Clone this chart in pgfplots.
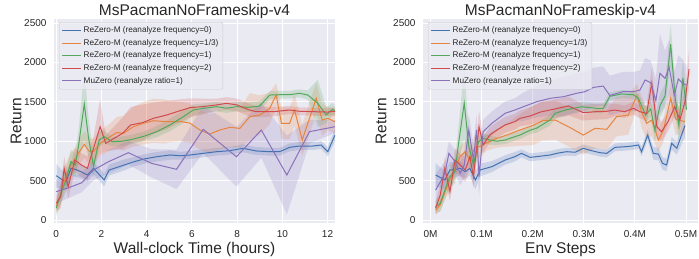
\documentclass[border=0pt]{standalone}
\usepackage{fontspec}
\setmainfont{Liberation Sans}
\usepackage{pgfplots}
\usepackage{pgfplotstable}
\pgfplotsset{compat=1.18}
\usepgfplotslibrary{fillbetween}
\definecolor{bg}{HTML}{EAEAF2}
\definecolor{cA}{HTML}{4471B2}
\definecolor{cB}{HTML}{E8843F}
\definecolor{cC}{HTML}{52A85C}
\definecolor{cD}{HTML}{D14B4B}
\definecolor{cE}{HTML}{8A72BB}
\definecolor{txt}{HTML}{262626}

% ---------- left: wall-clock hours ----------
\pgfplotstableread{
x y e
0 562 150
0.22 520 120
0.43 486 110
0.65 656 100
0.87 640 90
1.09 613 80
1.38 571 80
1.65 656 80
2.12 508 80
2.34 635 70
3.0 698 70
3.44 740 60
3.88 774 60
4.44 803 60
5.03 825 60
5.5 815 50
5.91 825 50
6.5 846 50
7.09 867 50
7.68 880 50
8.26 910 50
8.85 876 50
9.44 867 50
9.88 867 50
10.32 922 50
10.76 939 50
11.35 939 50
11.72 952 50
12.01 867 60
12.33 1078 80
}\LA
\pgfplotstableread{
x y e
0 170 90
0.2 330 130
0.43 560 150
0.65 700 150
0.8 760 150
1.01 860 160
1.24 960 170
1.46 870 170
1.65 870 160
1.94 973 160
2.38 1057 170
2.68 1110 200
2.97 1100 220
3.41 1184 250
3.85 1227 270
4.29 1260 280
4.8 1250 280
5.03 1248 260
5.5 1250 250
5.91 1230 250
6.35 1142 250
6.79 1091 250
7.23 1142 250
7.68 1176 250
8.12 1163 250
8.56 1311 300
9.0 1332 250
9.44 1417 200
9.73 1586 150
9.96 1227 200
10.32 1227 200
10.54 1396 200
10.88 1015 200
11.5 1544 200
11.76 1269 200
12.01 1290 150
12.33 1248 150
}\LB
\pgfplotstableread{
x y e
0 150 100
0.2 330 120
0.43 508 150
0.65 740 150
0.85 700 150
1.0 973 200
1.24 1472 450
1.43 1037 250
1.65 685 150
1.9 1015 100
2.12 1057 80
2.48 994 60
2.9 1000 60
3.3 1020 60
3.85 1060 60
4.44 1121 70
5.03 1206 80
5.62 1311 80
6.06 1396 70
6.5 1417 60
7.09 1438 60
7.53 1420 60
7.97 1438 60
8.5 1430 60
9.0 1447 60
9.44 1586 50
9.88 1590 50
10.32 1590 50
10.76 1608 50
11.13 1586 60
11.57 1481 300
11.94 1332 100
12.23 1408 80
12.33 1380 60
}\LC
\pgfplotstableread{
x y e
0 212 100
0.2 300 150
0.35 656 150
0.53 420 150
0.82 761 150
1.1 700 150
1.38 656 150
1.65 910 150
1.94 1184 350
2.19 973 100
2.56 1037 150
2.93 1100 200
3.29 1206 230
3.81 1235 230
4.29 1290 200
4.88 1332 180
5.4 1380 150
5.91 1425 120
6.5 1440 100
7.09 1460 80
7.53 1481 80
8.0 1460 80
8.5 1400 80
8.85 1374 70
9.59 1374 60
10.32 1396 50
10.76 1380 50
11.5 1374 50
12.0 1370 50
12.33 1380 50
}\LD
\pgfplotstableread{
x y e
0 360 150
0.55 410 130
1.13 473 120
1.65 635 130
2.31 740 150
3.19 854 150
4.22 719 180
5.32 643 250
6.5 1151 300
7.97 803 380
9.07 1142 350
10.2 571 500
11.2 1121 150
12.33 1184 80
}\LE

% ---------- right: env steps (M) ----------
\pgfplotstableread{
x y e
0.010 571 150
0.019 540 130
0.028 508 120
0.038 635 100
0.048 640 100
0.058 656 90
0.068 613 90
0.077 656 90
0.088 508 120
0.097 635 80
0.12 677 70
0.146 761 60
0.165 803 60
0.178 846 50
0.195 795 50
0.215 810 50
0.234 825 50
0.25 850 50
0.266 867 50
0.283 860 50
0.299 910 50
0.315 880 50
0.332 854 50
0.345 846 50
0.361 922 50
0.38 930 50
0.39 935 50
0.407 952 50
0.413 867 60
0.425 1078 70
0.436 846 80
0.446 837 80
0.454 719 80
0.462 698 80
0.472 973 80
0.482 910 80
0.498 1200 150
}\RA
\pgfplotstableread{
x y e
0.010 127 60
0.019 190 80
0.028 350 100
0.038 508 120
0.048 650 130
0.058 803 130
0.068 867 130
0.077 761 150
0.087 931 150
0.097 931 130
0.11 980 100
0.13 1037 120
0.15 1080 150
0.175 1142 200
0.2 1200 250
0.22 1260 250
0.244 1269 250
0.27 1184 250
0.299 1078 250
0.322 1163 250
0.345 1151 250
0.364 1311 250
0.387 1332 250
0.404 1580 150
0.413 1370 200
0.423 1227 200
0.433 1269 200
0.446 1015 150
0.456 1142 150
0.47 1544 200
0.48 1280 200
0.498 1248 150
}\RB
\pgfplotstableread{
x y e
0.010 170 80
0.019 210 100
0.028 380 120
0.038 550 130
0.048 613 150
0.054 931 200
0.066 1481 450
0.075 931 200
0.084 698 150
0.094 994 100
0.103 1037 60
0.116 1015 60
0.13 1000 50
0.146 1015 50
0.165 1057 50
0.175 1078 50
0.195 1140 50
0.208 1167 60
0.234 1269 70
0.244 1354 70
0.266 1400 60
0.296 1438 60
0.325 1417 60
0.338 1417 60
0.351 1570 50
0.374 1600 50
0.397 1590 50
0.407 1544 60
0.413 1450 80
0.421 1332 100
0.431 1410 100
0.439 1142 150
0.449 1450 150
0.459 1575 150
0.47 2230 250
0.479 1545 200
0.486 1200 200
0.494 1800 250
0.501 1400 200
}\RC
\pgfplotstableread{
x y e
0.010 150 80
0.019 317 120
0.028 656 150
0.038 360 120
0.048 761 150
0.058 698 150
0.068 635 150
0.077 803 150
0.084 550 150
0.095 1184 200
0.103 952 100
0.116 1078 100
0.13 1142 100
0.146 1206 100
0.165 1248 100
0.175 1290 100
0.195 1320 110
0.215 1370 120
0.234 1396 120
0.27 1447 120
0.299 1362 100
0.322 1374 100
0.345 1380 100
0.361 1396 80
0.38 1374 80
0.397 1417 80
0.41 1374 80
0.423 1354 100
0.433 1735 200
0.443 1184 150
0.452 1121 120
0.465 1248 120
0.478 1438 120
0.488 1270 120
0.498 1500 150
0.506 1915 250
}\RD
\pgfplotstableread{
x y e
0.010 380 200
0.019 480 180
0.028 592 150
0.036 846 150
0.048 740 150
0.058 592 150
0.066 700 180
0.075 1142 200
0.084 761 200
0.09 1142 200
0.095 550 250
0.103 1121 150
0.12 1227 150
0.133 1290 150
0.146 1354 150
0.165 1396 150
0.182 1438 180
0.208 1502 200
0.234 1544 220
0.26 1565 250
0.286 1608 250
0.302 1628 250
0.319 1683 250
0.338 1700 250
0.351 1580 250
0.377 1630 250
0.397 1628 250
0.41 1650 250
0.42 1777 280
0.431 1742 280
0.441 1515 280
0.449 1861 500
0.459 1798 350
0.467 1940 350
0.477 1580 300
0.485 1790 300
0.494 1730 300
0.501 1713 250
}\RE

\newcommand{\band}[3]{%
  \addplot[draw=none, forget plot, name path=u#3] table[x=x, y expr=\thisrow{y}+\thisrow{e}] {#1};
  \addplot[draw=none, forget plot, name path=l#3] table[x=x, y expr=\thisrow{y}-\thisrow{e}] {#1};
  \addplot[fill=#2, fill opacity=0.2, draw=none, forget plot] fill between[of=u#3 and l#3];
}

\pgfplotsset{
  sb/.style={
    scale only axis, height=204pt,
    axis background/.style={fill=bg},
    axis line style={draw=none},
    grid=major, major grid style={white, line width=0.9pt},
    tick style={draw=none},
    ticklabel style={font=\fontsize{10}{12}\selectfont, text=txt},
    /pgf/number format/assume math mode=true,
    /pgf/number format/1000 sep={},
    scaled y ticks=false,
    ymin=-38, ymax=2551, ytick={0,500,1000,1500,2000,2500},
    yticklabel style={anchor=east, xshift=-4pt},
    xticklabel style={anchor=north, yshift=-4pt},
    every axis title/.style={font=\fontsize{15.5}{18}\selectfont, text=txt, at={(0.5,1)}, anchor=base, yshift=3.5pt},
    xlabel style={font=\fontsize{15.5}{18}\selectfont, text=txt, at={(0.5,0)}, anchor=base, yshift=-30pt},
    every axis plot/.append style={line width=1pt},
    legend cell align=left,
    legend image code/.code={\draw[#1, line width=1pt] (0pt,0pt) -- (19pt,0pt);},
    legend style={font=\fontsize{8.2}{9}\selectfont, text=txt, fill=bg, fill opacity=0.8, text opacity=1,
      draw=black!20, rounded corners=2pt, at={(0,1)}, anchor=north west, xshift=5pt, yshift=-3pt,
      row sep=1.2pt, inner sep=2.5pt},
    title={MsPacmanNoFrameskip-v4},
    ylabel={Return},
  }
}

\begin{document}
\begin{tikzpicture}
\begin{axis}[sb, at={(54pt,35pt)}, anchor=south west, width=281pt,
  xmin=-0.1, xmax=12.33, xtick={0,2,4,6,8,10,12},
  xlabel={Wall-clock Time (hours)},
  every axis y label/.style={at={(-38pt,102pt)}, rotate=90, anchor=center, font=\fontsize{15.5}{18}\selectfont, text=txt}]
\band{\LA}{cA}{a}
\band{\LB}{cB}{b}
\band{\LC}{cC}{c}
\band{\LD}{cD}{d}
\band{\LE}{cE}{e}
\addplot[cA] table[x=x,y=y] {\LA};
\addplot[cB] table[x=x,y=y] {\LB};
\addplot[cC] table[x=x,y=y] {\LC};
\addplot[cD] table[x=x,y=y] {\LD};
\addplot[cE] table[x=x,y=y] {\LE};
\legend{ReZero-M (reanalyze frequency=0),ReZero-M (reanalyze frequency=1/3),ReZero-M (reanalyze frequency=1),ReZero-M (reanalyze frequency=2),MuZero (reanalyze ratio=1)}
\end{axis}
\begin{axis}[sb, at={(423pt,35pt)}, anchor=south west, width=275pt,
  xmin=-0.0147, xmax=0.5235, xtick={0,0.1,0.2,0.3,0.4,0.5},
  xticklabels={0M,0.1M,0.2M,0.3M,0.4M,0.5M},
  xlabel={Env Steps},
  every axis y label/.style={at={(-42pt,102pt)}, rotate=90, anchor=center, font=\fontsize{15.5}{18}\selectfont, text=txt}]
\band{\RA}{cA}{a}
\band{\RB}{cB}{b}
\band{\RC}{cC}{c}
\band{\RD}{cD}{d}
\band{\RE}{cE}{e}
\addplot[cA] table[x=x,y=y] {\RA};
\addplot[cB] table[x=x,y=y] {\RB};
\addplot[cC] table[x=x,y=y] {\RC};
\addplot[cD] table[x=x,y=y] {\RD};
\addplot[cE] table[x=x,y=y] {\RE};
\legend{ReZero-M (reanalyze frequency=0),ReZero-M (reanalyze frequency=1/3),ReZero-M (reanalyze frequency=1),ReZero-M (reanalyze frequency=2),MuZero (reanalyze ratio=1)}
\end{axis}
\pgfresetboundingbox
\path[use as bounding box] (0,0) rectangle (699pt,258pt);
\end{tikzpicture}
\end{document}
